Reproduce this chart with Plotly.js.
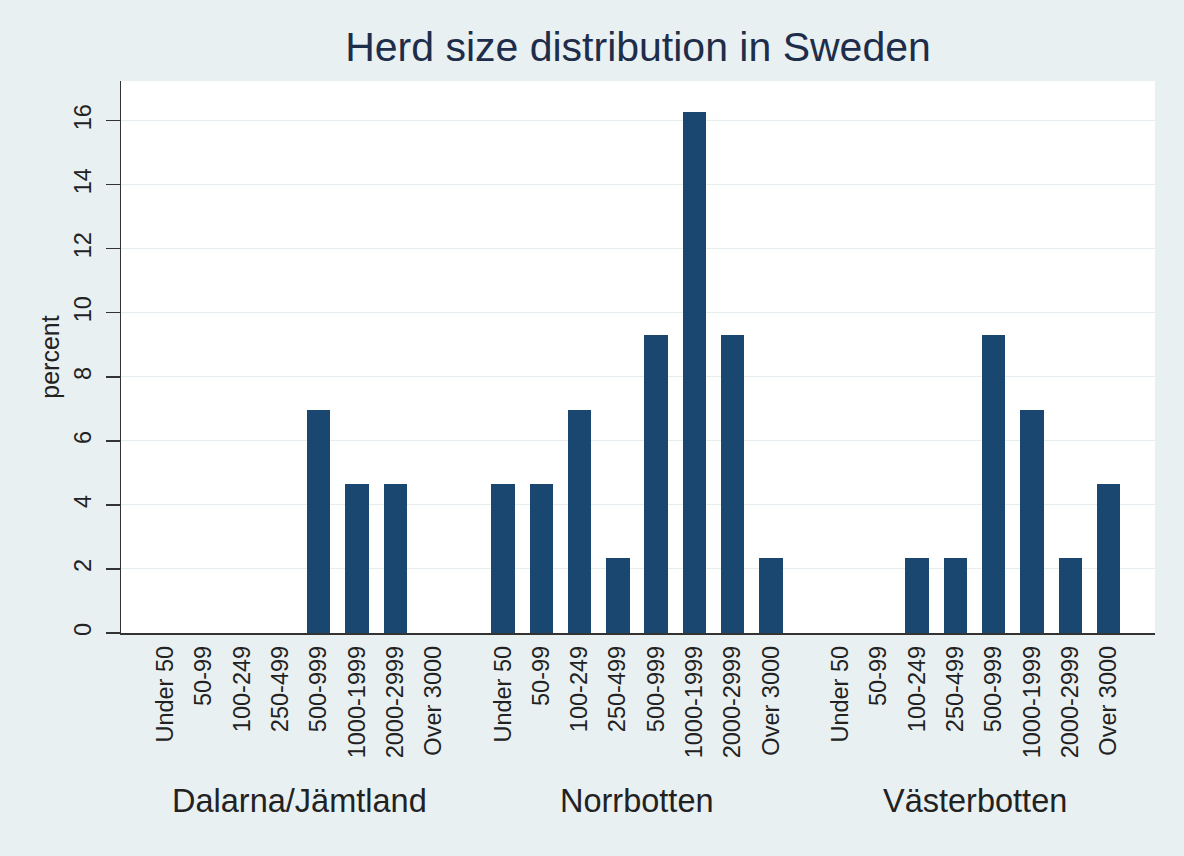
<!DOCTYPE html>
<html>
<head>
<meta charset="utf-8">
<script src="https://cdn.plot.ly/plotly-3.0.1.min.js"></script>
<style>html,body{margin:0;padding:0;background:#E9F0F2;}#chart{width:1184px;height:856px;}</style>
</head>
<body>
<div id="chart"></div>
<script>
const categories = ['Under 50','50-99','100-249','250-499','500-999','1000-1999','2000-2999','Over 3000'];
const regions = ['Dalarna/Jämtland','Norrbotten','Västerbotten'];
const dalarnaJamtland = [0,0,0,0,6.98,4.65,4.65,0];
const norrbotten = [4.65,4.65,6.98,2.33,9.30,16.28,9.30,2.33];
const vasterbotten = [0,0,2.33,2.33,9.30,6.98,2.33,4.65];
const seriesByRegion = [dalarnaJamtland, norrbotten, vasterbotten];
const yTicks = [0,2,4,6,8,10,12,14,16];

const groupStride = 8.81;
const barColor = '#1A476F';
const font = 'Liberation Sans, Arial, sans-serif';

const traces = [];
const tickvals = [], ticktext = [];
const annotations = [];
seriesByRegion.forEach((vals, g) => {
  const xs = categories.map((c, i) => g * groupStride + i);
  xs.forEach((x, i) => { tickvals.push(x); ticktext.push(categories[i]); });
  traces.push({
    type: 'bar', x: xs, y: vals, name: regions[g],
    width: 0.61,
    marker: {color: barColor, line: {width: 0}},
    hoverinfo: 'y', showlegend: false
  });
  annotations.push({
    text: regions[g], xref: 'x', yref: 'paper',
    x: g * groupStride + (categories.length - 1) / 2, y: -0.305,
    xanchor: 'center', yanchor: 'middle', showarrow: false,
    font: {family: font, size: 32.5, color: '#222'}
  });
});

const layout = {
  width: 1184, height: 856,
  paper_bgcolor: '#E9F0F2', plot_bgcolor: '#FFFFFF',
  margin: {l: 121, r: 29, t: 81, b: 223},
  title: {text: 'Herd size distribution in Sweden', x: 0.5, xref: 'paper', xanchor: 'center',
          y: 1 - 47/856, yref: 'container', yanchor: 'middle',
          font: {family: font, size: 41, color: '#1E2D4A'}},
  xaxis: {range: [-1.157, 2 * groupStride + 7 + 1.21], tickmode: 'array', tickvals: tickvals, ticktext: ticktext,
          tickangle: -90, ticks: '', showgrid: false, zeroline: false,
          showline: true, linecolor: '#333', linewidth: 1.5,
          ticklabelstandoff: 2,
          tickfont: {family: font, size: 23.5, color: '#222'}},
  yaxis: {range: [0, 17.24], tickmode: 'array', tickvals: yTicks, ticktext: yTicks.map(String),
          tickangle: -90, ticks: 'outside', ticklen: 14, tickwidth: 1.3, tickcolor: '#333',
          showline: true, linecolor: '#333', linewidth: 1.5, zeroline: false,
          showgrid: true, gridcolor: '#E6EDF0', gridwidth: 1,
          ticklabelstandoff: 5,
          tickfont: {family: font, size: 23.5, color: '#222'},
          title: {text: 'percent', standoff: 3, font: {family: font, size: 25, color: '#222'}}},
  annotations: annotations,
  bargap: 0
};
Plotly.newPlot('chart', traces, layout, {staticPlot: true, displayModeBar: false});
</script>
</body>
</html>
